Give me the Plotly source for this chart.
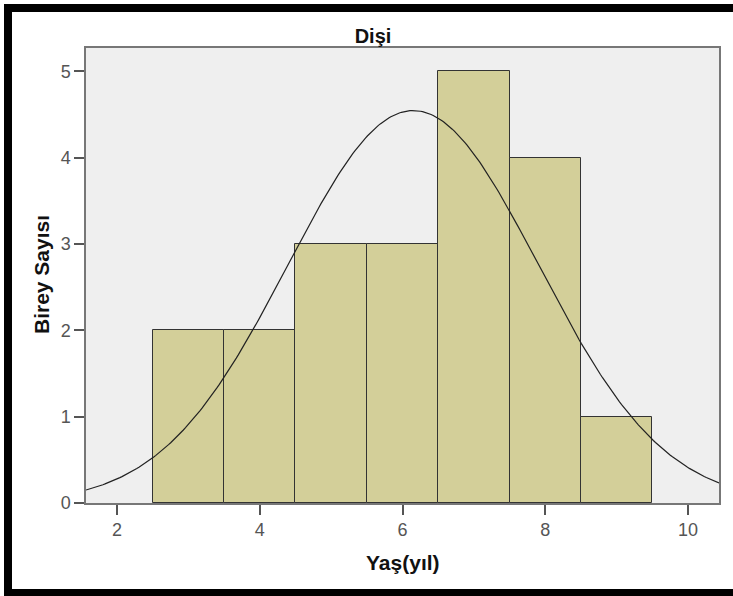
import numpy as np
import plotly.graph_objects as go

# Data
ages = [3, 4, 5, 6, 7, 8, 9]
counts = [2, 2, 3, 3, 5, 4, 1]
x_ticks = [2, 4, 6, 8, 10]
y_ticks = [0, 1, 2, 3, 4, 5]
title_text = "Dişi"
x_title = "Yaş(yıl)"
y_title = "Birey Sayısı"

# Normal curve fitted to the histogram data (as SPSS does)
vals = np.repeat(ages, counts)
n = len(vals)
mu = vals.mean()
sd = vals.std(ddof=1)
bin_w = 1.0
xr = [1.566, 10.434]
xc = np.linspace(xr[0], xr[1], 300)
yc = n * bin_w / (sd * np.sqrt(2 * np.pi)) * np.exp(-0.5 * ((xc - mu) / sd) ** 2)

fig = go.Figure()
fig.add_trace(go.Bar(x=ages, y=counts, width=1,
                     marker=dict(color="#d3cf99", line=dict(color="#333333", width=1)),
                     showlegend=False, hoverinfo="x+y"))
fig.add_trace(go.Scatter(x=xc, y=yc, mode="lines",
                         line=dict(color="#222222", width=1.2),
                         showlegend=False, hoverinfo="skip"))

W, H = 733, 596
L, R, T, B = 86, 14, 48, 93
pw, ph = W - L - R, H - T - B

def px(X):
    return (X - L) / pw

def py(Y):
    return (H - B - Y) / ph

border = dict(color="black", width=8)
fig.update_layout(
    width=W, height=H,
    margin=dict(l=L, r=R, t=T, b=B),
    paper_bgcolor="white",
    plot_bgcolor="#efefef",
    font=dict(family="Liberation Sans, Arial, sans-serif", color="#555555", size=18),
    title=dict(text="<b>" + title_text + "</b>", x=373 / W, xref="container", xanchor="center",
               y=1 - 36 / H, yref="container", yanchor="middle",
               font=dict(size=20, color="#111111")),
    bargap=0,
    xaxis=dict(range=xr, tickvals=x_ticks, ticks="outside", ticklen=10, tickwidth=1.5,
               tickcolor="#555555", showgrid=False, zeroline=False,
               showline=True, linecolor="#777777", linewidth=1.5, mirror=True,
               tickfont=dict(size=18, color="#555555")),
    yaxis=dict(range=[0, 5.27], tickvals=y_ticks, ticks="outside", ticklen=10, tickwidth=1.5,
               tickcolor="#555555", showgrid=False, zeroline=False,
               showline=True, linecolor="#777777", linewidth=1.5, mirror=True,
               tickfont=dict(size=18, color="#555555")),
    annotations=[
        dict(text="<b>" + x_title + "</b>", xref="paper", yref="paper",
             x=px(403), y=py(562), xanchor="center", yanchor="middle",
             showarrow=False, font=dict(size=21, color="#111111")),
        dict(text="<b>" + y_title + "</b>", xref="paper", yref="paper",
             x=px(41), y=py(275), xanchor="center", yanchor="middle", textangle=-90,
             showarrow=False, font=dict(size=21, color="#111111")),
    ],
    shapes=[
        dict(type="line", xref="paper", yref="paper", x0=px(4), x1=px(733),
             y0=py(8), y1=py(8), line=border, layer="above"),
        dict(type="line", xref="paper", yref="paper", x0=px(4), x1=px(733),
             y0=py(593), y1=py(593), line=border, layer="above"),
        dict(type="line", xref="paper", yref="paper", x0=px(8), x1=px(8),
             y0=py(4), y1=py(596), line=border, layer="above"),
    ],
)

fig.write_html("out.html")
